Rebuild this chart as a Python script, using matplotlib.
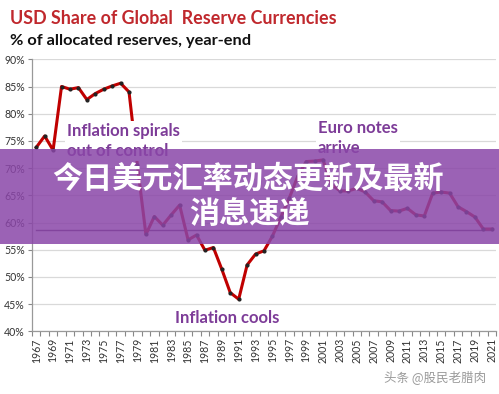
import matplotlib
matplotlib.use("Agg")
import matplotlib.pyplot as plt
from matplotlib.patches import Rectangle

years = list(range(1967, 2022))
usd_share = [73.8, 75.9, 73.3, 85.0, 84.5, 84.8, 82.6, 83.7, 84.5, 85.1,
             85.6, 84.0, 70.5, 57.8, 61.1, 59.5, 61.4, 63.2, 56.8, 57.7,
             54.9, 55.4, 51.4, 47.1, 45.9, 52.2, 54.2, 54.8, 57.5, 61.0,
             64.5, 68.5, 71.2, 71.3, 71.5, 67.0, 65.8, 65.8, 66.3, 65.6,
             64.0, 63.8, 62.2, 62.1, 62.6, 61.4, 61.2, 65.4, 65.6, 65.4,
             62.9, 62.0, 61.0, 58.8, 58.8]
reference_level = 58.6
y_ticks = [40, 45, 50, 55, 60, 65, 70, 75, 80, 85, 90]

title = "USD Share of Global  Reserve Currencies"
subtitle = "% of allocated reserves, year-end"
ann_spiral = "Inflation spirals\nout of control"
ann_euro = "Euro notes\narrive"
ann_cools = "Inflation cools"
banner_l1 = "今日美元汇率动态更新及最新"
banner_l2 = "消息速递"
watermark = "头条 @股民老腊肉"

plt.rcParams['font.family'] = ['Lato', 'DejaVu Sans']

W, H = 499, 394
fig = plt.figure(figsize=(W / 100, H / 100), dpi=100)
fig.patch.set_facecolor("white")

ax = fig.add_axes([32 / W, 1 - 331.3 / H, (496 - 32) / W, (331.3 - 59.3) / H])
x = list(range(len(years)))

ax.plot(x, usd_share, color="#C00000", lw=2.2, zorder=3, solid_joinstyle="round")
ax.plot(x, usd_share, ls="none", marker="o", ms=2.0, color="#222222", zorder=4)
ax.plot([x[0], x[-1]], [reference_level, reference_level], color="#5a3a60", lw=1.0, zorder=2)

ax.set_xlim(-0.5, len(years) - 0.5)
ax.set_ylim(40, 90)
ax.set_yticks(y_ticks)
ax.set_yticklabels([f"{v}%" for v in y_ticks], fontsize=7.6, color="#333333")
ax.yaxis.grid(True, color="#D9D9D9", lw=0.9, zorder=0)
ax.set_axisbelow(True)

ax.set_xticks(x[::2])
ax.set_xticklabels([str(y) for y in years[::2]], rotation=90, fontsize=7.6, color="#333333")
ax.tick_params(axis="x", length=0, pad=5)
ax.set_xticks([i - 0.5 for i in range(len(years) + 1)], minor=True)
ax.tick_params(axis="x", which="minor", length=3.5, color="#888888", width=0.8)
ax.tick_params(axis="y", length=3, color="#888888", width=0.8, pad=2)

for s in ["top", "right"]:
    ax.spines[s].set_visible(False)
for s in ["left", "bottom"]:
    ax.spines[s].set_color("#999999")
    ax.spines[s].set_linewidth(0.9)

purple = "#7D3C98"
box = dict(facecolor="white", edgecolor="none", pad=1.5)
ax.text(3.67, 75.0, ann_spiral, fontsize=12, color=purple, fontweight="bold",
        ha="left", va="center", linespacing=1.3, bbox=box, zorder=5)
ax.text(33.4, 75.5, ann_euro, fontsize=12, color=purple, fontweight="bold",
        ha="left", va="center", linespacing=1.3, bbox=box, zorder=5)
ax.text(16.45, 42.4, ann_cools, fontsize=12, color=purple, fontweight="bold",
        ha="left", va="center", bbox=box, zorder=5)

fig.text(10 / W, 1 - 18 / H, title, fontsize=12.9, color="#C0282D", fontweight="bold",
         ha="left", va="center")
fig.text(10 / W, 1 - 41 / H, subtitle, fontsize=11.8, color="#111111", fontweight="bold",
         ha="left", va="center")

# overlay banner
fig.patches.append(Rectangle((0, 1 - 244.3 / H), 1, 95.6 / H, transform=fig.transFigure,
                             facecolor="#8A46A8", alpha=0.85, edgecolor="none", zorder=10))
cjk = ['Noto Sans CJK SC', 'DejaVu Sans']
fig.text(248.5 / W, 1 - 179 / H, banner_l1, fontsize=21.7, color="white", fontweight="bold",
         family=cjk, ha="center", va="center", zorder=11)
fig.text(249.5 / W, 1 - 214 / H, banner_l2, fontsize=21.7, color="white", fontweight="bold",
         family=cjk, ha="center", va="center", zorder=11)

fig.text(435 / W, 1 - 377 / H, watermark, fontsize=9, color="#9a9a9a", family=cjk,
         ha="center", va="center", zorder=11)

fig.savefig("out.png", dpi=100, facecolor="white")
